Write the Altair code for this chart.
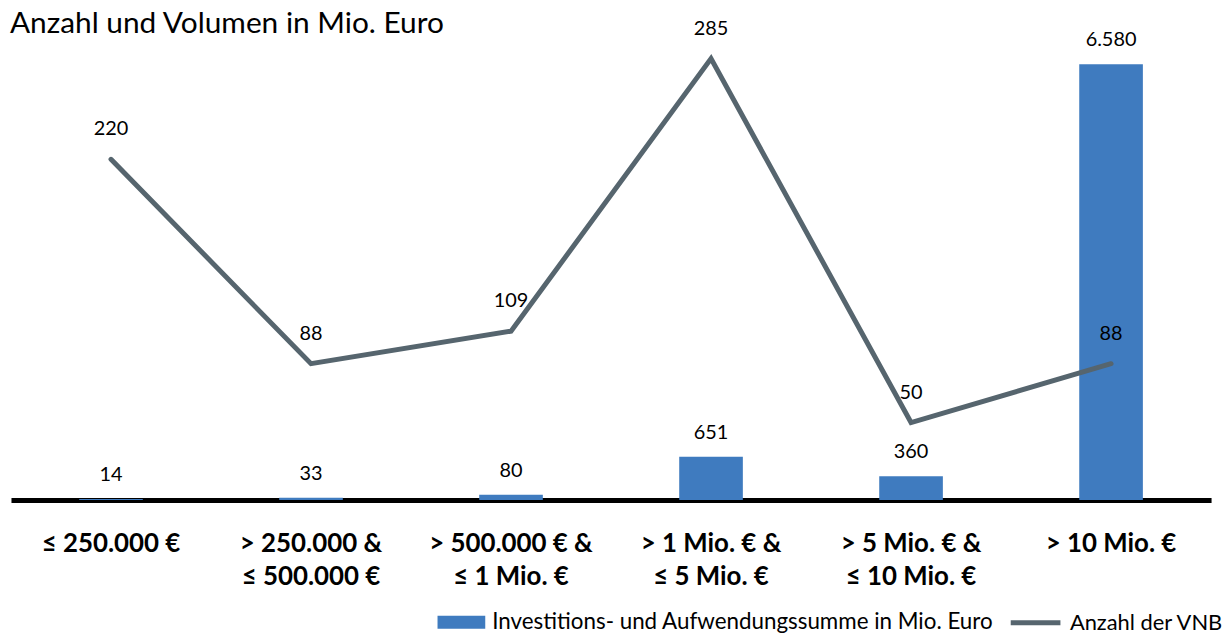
import altair as alt
import pandas as pd

# ---- data ----
categories = [
    "≤ 250.000 €",
    "> 250.000 &|≤ 500.000 €",
    "> 500.000 € &|≤ 1 Mio. €",
    "> 1 Mio. € &|≤ 5 Mio. €",
    "> 5 Mio. € &|≤ 10 Mio. €",
    "> 10 Mio. €",
]
volumen = [14, 33, 80, 651, 360, 6580]          # Investitions- und Aufwendungssumme in Mio. Euro
anzahl = [220, 88, 109, 285, 50, 88]            # Anzahl der VNB

series_bar = "Investitions- und Aufwendungssumme in Mio. Euro"
series_line = "Anzahl der VNB"

BLUE = "#3F7BBF"
GREY = "#56656E"
FONT = "Lato"

df = pd.DataFrame({
    "kategorie": categories,
    "volumen": volumen,
    "anzahl": anzahl,
    "reihe_bar": [series_bar] * len(categories),
    "reihe_line": [series_line] * len(categories),
})

x_enc = alt.X(
    "kategorie:N",
    sort=categories,
    scale=alt.Scale(paddingInner=0, paddingOuter=0),
    axis=alt.Axis(
        title=None,
        labelExpr="split(datum.label, '|')",
        labelAngle=0,
        labelFont=FONT,
        labelFontWeight="bold",
        labelFontSize=26,
        labelColor="black",
        labelPadding=31,
        labelLineHeight=33,
        labelLimit=0,
        ticks=False,
        domainColor="black",
        domainWidth=5,
        grid=False,
    ),
)

base = alt.Chart(df).encode(x=x_enc)

y_bar = alt.Y("volumen:Q", scale=alt.Scale(domain=[0, 6922]), axis=None)
y_line = alt.Y("anzahl:Q", scale=alt.Scale(domain=[0, 296]), axis=None)

bars = base.mark_bar(size=64).encode(
    y=y_bar,
    fill=alt.Fill(
        "reihe_bar:N",
        scale=alt.Scale(range=[BLUE]),
        legend=alt.Legend(
            title=None,
            orient="none",
            legendX=429,
            legendY=560,
            symbolType="M-1,-0.27H1V0.27H-1Z",
            symbolSize=2304,
            symbolStrokeWidth=0,
            labelFont=FONT,
            labelFontSize=22.5,
            labelColor="black",
            labelLimit=0,
            labelOffset=7,
        ),
    ),
)

bar_text = base.mark_text(dy=-24, baseline="middle", font=FONT, fontSize=20, color="black").encode(
    y=y_bar,
    text="label:N",
).transform_calculate(label="replace(format(datum.volumen, ','), ',', '.')")

line = base.mark_line(strokeWidth=5, strokeCap="round").encode(
    y=y_line,
    stroke=alt.Stroke(
        "reihe_line:N",
        scale=alt.Scale(range=[GREY]),
        legend=alt.Legend(
            title=None,
            orient="none",
            legendX=1003,
            legendY=557,
            symbolType="stroke",
            symbolSize=2500,
            symbolStrokeWidth=5,
            labelFont=FONT,
            labelFontSize=22,
            labelColor="black",
            labelLimit=0,
            labelOffset=7,
        ),
    ),
)

line_text = base.mark_text(dy=-30, baseline="middle", font=FONT, fontSize=20, color="black").encode(
    y=y_line,
    text="anzahl:Q",
)

chart = (
    alt.layer(alt.layer(bars, bar_text), alt.layer(line, line_text))
    .resolve_scale(y="independent", fill="independent", stroke="independent")
    .properties(
        width=1207,
        height=461,
        title=alt.TitleParams(
            "Anzahl und Volumen in Mio. Euro",
            anchor="start",
            font=FONT,
            fontSize=30,
            fontWeight="normal",
            color="black",
            offset=8,
            dy=28,
            dx=-1,
        ),
        autosize=alt.AutoSizeParams(type="none"),
        padding={"left": 3, "top": 32, "right": 12, "bottom": 133},
    )
    .configure_view(stroke=None)
)

chart.save("out.html", embed_options={"renderer": "svg", "actions": False})
